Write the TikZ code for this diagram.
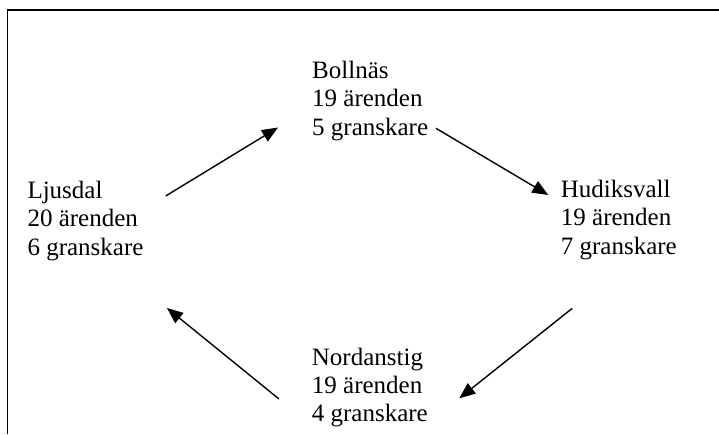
\documentclass[tikz,border=0pt]{standalone}
\usepackage{fontspec}
\setmainfont{Liberation Serif}
\usetikzlibrary{arrows.meta}
\tikzset{
  place/.style={anchor=base west, align=left, inner sep=0pt, font=\fontsize{25}{28.35}\selectfont},
  flow/.style={line width=1.4pt, -{Triangle[length=16pt,width=13pt]}},
  frame/.style={line width=1.3pt}
}
\begin{document}
\begin{tikzpicture}[x=1pt,y=-1pt]
\useasboundingbox (0,0) rectangle (719,434);
\draw[frame] (7.5,434) -- (7.5,10) -- (719,10);
\node[place] (boll) at (312,135) {Bollnäs\\19 ärenden\\5 granskare};
\node[place] (ljus) at (27.3,255) {Ljusdal\\20 ärenden\\6 granskare};
\node[place] (hudi) at (560.7,254.3) {Hudiksvall\\19 ärenden\\7 granskare};
\node[place] (nord) at (311.7,421.7) {Nordanstig\\19 ärenden\\4 granskare};
\coordinate (a1s) at (165.7,196);
\coordinate (a1e) at (278,127.5);
\coordinate (a2s) at (436,128.3);
\coordinate (a2e) at (548.3,195);
\coordinate (a3s) at (572.3,308.3);
\coordinate (a3e) at (459.3,398.3);
\coordinate (a4s) at (279,399);
\coordinate (a4e) at (167,308);
\draw[flow] (a1s) -- (a1e);
\draw[flow] (a2s) -- (a2e);
\draw[flow] (a3s) -- (a3e);
\draw[flow] (a4s) -- (a4e);
\end{tikzpicture}
\end{document}
